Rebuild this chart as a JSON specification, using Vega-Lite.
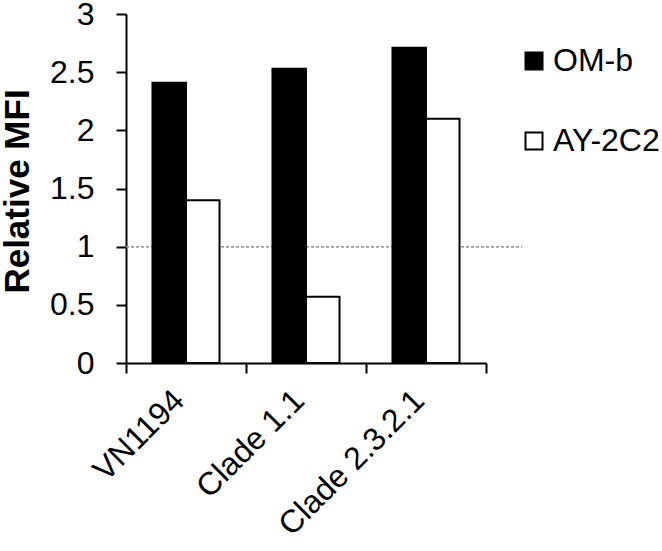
{
  "$schema": "https://vega.github.io/schema/vega-lite/v6.json",
  "autosize": "none",
  "width": 360,
  "height": 349,
  "padding": {"left": 126, "top": 14, "right": 176, "bottom": 188},
  "background": "white",
  "config": {
    "font": "Liberation Sans",
    "view": {"stroke": null},
    "axis": {"domainColor": "black", "tickColor": "black", "labelColor": "black", "titleColor": "black", "grid": false}
  },
  "data": {"values": [
    {"strain": "VN1194", "antibody": "OM-b", "mfi": 2.41},
    {"strain": "VN1194", "antibody": "AY-2C2", "mfi": 1.40},
    {"strain": "Clade 1.1", "antibody": "OM-b", "mfi": 2.53},
    {"strain": "Clade 1.1", "antibody": "AY-2C2", "mfi": 0.57},
    {"strain": "Clade 2.3.2.1", "antibody": "OM-b", "mfi": 2.71},
    {"strain": "Clade 2.3.2.1", "antibody": "AY-2C2", "mfi": 2.10}
  ]},
  "resolve": {"scale": {"x": "independent"}, "axis": {"x": "independent"}},
  "layer": [
    {
      "mark": {"type": "rule", "strokeDash": [3, 2], "color": "#999999", "strokeWidth": 1},
      "encoding": {
        "y": {"datum": 1, "type": "quantitative"},
        "x": {"datum": 0, "type": "quantitative", "scale": {"domain": [0, 1], "nice": false, "zero": false},
              "axis": {"orient": "bottom", "values": [1], "labels": false, "domain": false, "title": null, "tickSize": 10, "tickWidth": 2, "tickColor": "black"}},
        "x2": {"datum": 1.1}
      }
    },
    {
      "mark": {"type": "bar", "stroke": "black", "strokeWidth": 2},
      "encoding": {
        "x": {
          "field": "strain", "type": "nominal", "sort": ["VN1194", "Clade 1.1", "Clade 2.3.2.1"],
          "scale": {"paddingInner": 0, "paddingOuter": 0},
          "axis": {"orient": "bottom", "title": null, "bandPosition": 0, "labelOffset": -7, "labelAngle": -45, "labelAlign": "right", "labelBaseline": "middle", "labelFontSize": 32, "labelPadding": 22, "labelLimit": 400, "tickSize": 10, "domainWidth": 2, "tickWidth": 2}
        },
        "xOffset": {
          "field": "antibody", "type": "nominal", "sort": ["OM-b", "AY-2C2"],
          "scale": {"paddingInner": 0, "paddingOuter": 0.79}
        },
        "y": {
          "field": "mfi", "type": "quantitative",
          "scale": {"domain": [0, 3], "nice": false},
          "axis": {"title": "Relative MFI", "titleFontSize": 35, "titleFontWeight": "bold", "titleAngle": -90, "titleX": -98, "titleY": 177, "titleAlign": "center", "titleBaseline": "alphabetic", "values": [0, 0.5, 1, 1.5, 2, 2.5, 3], "format": "~g", "labelFontSize": 32, "labelPadding": 22, "tickSize": 10, "domainWidth": 2, "tickWidth": 2}
        },
        "fill": {
          "field": "antibody", "type": "nominal", "sort": ["OM-b", "AY-2C2"],
          "scale": {"domain": ["OM-b", "AY-2C2"], "range": ["black", "white"]},
          "legend": {"title": null, "orient": "none", "legendX": 392, "legendY": 31, "symbolType": "square", "symbolSize": 289, "symbolStrokeColor": "black", "symbolStrokeWidth": 2, "labelFontSize": 32, "labelColor": "black", "labelOffset": 3, "labelLimit": 300, "rowPadding": 48}
        }
      }
    }
  ]
}
